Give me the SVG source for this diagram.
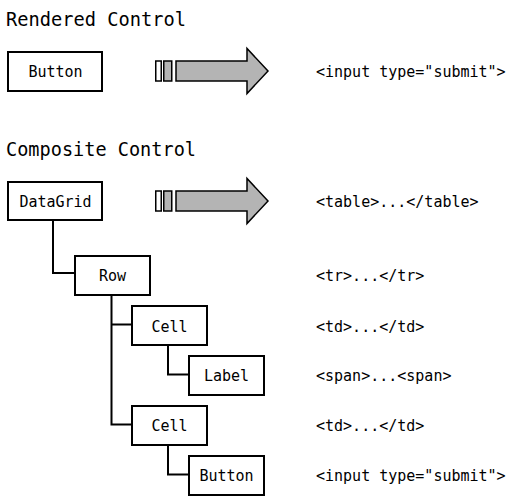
<svg xmlns="http://www.w3.org/2000/svg" width="530" height="500" viewBox="0 0 530 500">
<style>
.title{font-family:"DejaVu Sans Mono","Liberation Mono",monospace;font-size:20px;fill:#000}
.lbl{font-family:"DejaVu Sans Mono","Liberation Mono",monospace;font-size:15px;fill:#000;text-anchor:middle}
.html{font-family:"DejaVu Sans Mono","Liberation Mono",monospace;font-size:15px;fill:#000}
.box{fill:#fff;stroke:#000;stroke-width:2}
.conn{fill:none;stroke:#000;stroke-width:2}
.arr{fill:#b4b4b4;stroke:#000;stroke-width:1.5;stroke-linejoin:miter}
</style>
<defs>
<g id="bigarrow">
<rect x="155.75" y="61" width="5.5" height="20" fill="#fff" stroke="#000" stroke-width="1.5"/>
<rect x="163.75" y="61" width="8" height="20" class="arr"/>
<path d="M176,61 H247 V48.5 L268,71 L247,93.5 V81 H176 Z" class="arr"/>
</g>
</defs>
<rect width="530" height="500" fill="#fff"/>
<text class="title" x="6" y="26" textLength="180" lengthAdjust="spacingAndGlyphs">Rendered Control</text>
<text class="title" x="6" y="156" textLength="190" lengthAdjust="spacingAndGlyphs">Composite Control</text>

<g id="connectors">
<path class="conn" d="M53,220 V273 H75"/>
<path class="conn" d="M111.5,295 V424.5 H132 M111.5,324.5 H132"/>
<path class="conn" d="M168,345 V374.5 H189"/>
<path class="conn" d="M168,445 V474.5 H189"/>
</g>

<g id="arrow1"><use href="#bigarrow"/></g>
<g id="arrow2"><use href="#bigarrow" transform="translate(0,130)"/></g>

<g id="button-rendered"><rect class="box" x="8" y="52" width="94" height="39"/><text class="lbl" x="55.5" y="77">Button</text></g>
<g id="datagrid"><rect class="box" x="8" y="182" width="94" height="38"/><text class="lbl" x="55.5" y="207">DataGrid</text></g>
<g id="row"><rect class="box" x="75" y="256" width="75" height="39"/><text class="lbl" x="112.5" y="281">Row</text></g>
<g id="cell1"><rect class="box" x="132" y="306" width="75" height="39"/><text class="lbl" x="169.5" y="331.5">Cell</text></g>
<g id="label"><rect class="box" x="189" y="356" width="75" height="39"/><text class="lbl" x="226.5" y="381">Label</text></g>
<g id="cell2"><rect class="box" x="132" y="406" width="75" height="39"/><text class="lbl" x="169.5" y="431">Cell</text></g>
<g id="button-child"><rect class="box" x="189" y="456" width="75" height="39"/><text class="lbl" x="226.5" y="481">Button</text></g>

<g id="html-output">
<text class="html" x="316" y="77">&lt;input type="submit"&gt;</text>
<text class="html" x="316" y="207">&lt;table&gt;...&lt;/table&gt;</text>
<text class="html" x="316" y="281">&lt;tr&gt;...&lt;/tr&gt;</text>
<text class="html" x="316" y="331.5">&lt;td&gt;...&lt;/td&gt;</text>
<text class="html" x="316" y="381">&lt;span&gt;...&lt;span&gt;</text>
<text class="html" x="316" y="431">&lt;td&gt;...&lt;/td&gt;</text>
<text class="html" x="316" y="481">&lt;input type="submit"&gt;</text>
</g>
</svg>
